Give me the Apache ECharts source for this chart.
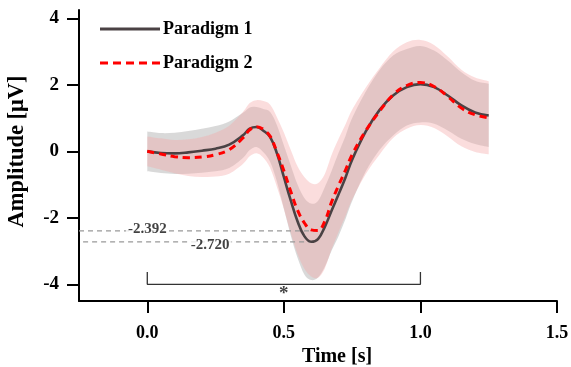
<!DOCTYPE html>
<html><head><meta charset="utf-8">
<script src="https://cdn.jsdelivr.net/npm/echarts@6/dist/echarts.min.js"></script>
<style>html,body{margin:0;padding:0;background:#fff}#c{width:571px;height:367px}</style>
</head><body><div id="c"></div>
<script>
const time = [0,0.05,0.1,0.15,0.2,0.25,0.3,0.35,0.375,0.4,0.425,0.45,0.475,0.5,0.525,0.55,0.575,0.6,0.625,0.65,0.675,0.7,0.725,0.75,0.8,0.85,0.9,0.95,1.0,1.05,1.1,1.15,1.2,1.25];
const p1Mean = [0,-0.05,-0.06,-0.03,0.02,0.08,0.2,0.48,0.68,0.73,0.62,0.43,-0.07,-0.77,-1.47,-2.1,-2.55,-2.72,-2.64,-2.27,-1.78,-1.3,-0.8,-0.25,0.6,1.24,1.68,1.93,2.02,1.93,1.68,1.38,1.17,1.08];
const p1Sd = [0.6,0.6,0.62,0.64,0.66,0.68,0.7,0.68,0.64,0.6,0.65,0.75,0.85,0.95,1.05,1.1,1.15,1.15,1.15,1.2,1.2,1.25,1.25,1.25,1.2,1.2,1.2,1.15,1.15,1.1,1.05,1.0,0.95,0.95];
const p2Mean = [0,-0.08,-0.16,-0.19,-0.17,-0.1,0.05,0.4,0.65,0.74,0.66,0.45,-0.03,-0.58,-1.2,-1.77,-2.15,-2.36,-2.38,-2.1,-1.52,-1.03,-0.58,-0.1,0.62,1.2,1.7,1.98,2.07,1.95,1.65,1.3,1.1,1.01];
const p2Sd = [0.45,0.47,0.5,0.55,0.6,0.66,0.72,0.78,0.8,0.8,0.85,0.95,1.05,1.15,1.25,1.32,1.38,1.4,1.42,1.42,1.42,1.4,1.38,1.35,1.3,1.3,1.3,1.3,1.28,1.25,1.2,1.15,1.12,1.1];
const seriesNames = ['Paradigm 1','Paradigm 2'];
const xTicks = [0,0.5,1.0,1.5];
const yTicks = [-4,-2,0,2,4];
const peak1 = {t:0.6, v:-2.720, label:'-2.720', labelT:0.23};
const peak2 = {t:0.613, v:-2.392, label:'-2.392', labelT:0.0};
const sigStart = 0, sigEnd = 1.0, sigLevel = -4.0, sigTop = -3.63, sigMark = '*', sigMarkV = -4.28;

const FONT = "'Liberation Serif','Times New Roman',serif";
const pairs = (xs, ys) => xs.map((x,i)=>[x, ys[i]]);

// Catmull-Rom spline through pixel points -> SVG path segments (rendering only)
function splineSeg(p) {
  let d = '';
  for (let i = 0; i < p.length - 1; i++) {
    const p0 = p[Math.max(i-1,0)], p1 = p[i], p2 = p[i+1], p3 = p[Math.min(i+2,p.length-1)];
    const c1 = [p1[0] + (p2[0]-p0[0])/6, p1[1] + (p2[1]-p0[1])/6];
    const c2 = [p2[0] - (p3[0]-p1[0])/6, p2[1] - (p3[1]-p1[1])/6];
    d += ` C${c1[0]},${c1[1]} ${c2[0]},${c2[1]} ${p2[0]},${p2[1]}`;
  }
  return d;
}
const bandSeries = (m, s, color) => ({
  type:'custom', silent:true, z:1, data:[[time[0], m[0]]],
  renderItem:(params, api) => {
    const up = time.map((t,i)=>api.coord([t, m[i]+s[i]]));
    const lo = time.map((t,i)=>api.coord([t, m[i]-s[i]])).reverse();
    const d = `M${up[0][0]},${up[0][1]}` + splineSeg(up) + ` L${lo[0][0]},${lo[0][1]}` + splineSeg(lo) + ' Z';
    return {type:'path', shape:{pathData:d}, style:{fill:color, stroke:null}};
  }
});

const dashIcon = 'path://M0,0H8V3H0Z M13,0H21V3H13Z M26,0H34V3H26Z M39,0H47V3H39Z M52,0H60V3H52Z';
const solidIcon = 'path://M0,0H60V3H0Z';

const chart = echarts.init(document.getElementById('c'), null, {renderer:'canvas'});
chart.setOption({
  animation:false,
  backgroundColor:'#fff',
  grid:{left:79, right:14, top:10, bottom:66, outerBoundsMode:'none', containLabel:false},
  legend:{
    data:[{name:seriesNames[0], icon:solidIcon},{name:seriesNames[1], icon:dashIcon}],
    orient:'vertical', left:100, top:20, padding:0, itemWidth:60, itemHeight:3, itemGap:16,
    textStyle:{fontFamily:FONT, fontWeight:'bold', fontSize:18, color:'#000', padding:[0,0,0,-2]}
  },
  xAxis:{
    type:'value', min:-0.25, max:1.5,
    name:'Time [s]', nameLocation:'middle', nameGap:42,
    nameTextStyle:{fontFamily:FONT, fontWeight:'bold', fontSize:20, color:'#000', padding:[0,0,0,38]},
    axisLine:{onZero:false, lineStyle:{color:'#000', width:2}},
    axisTick:{customValues:xTicks, length:12, lineStyle:{width:2, color:'#000'}},
    axisLabel:{customValues:xTicks, margin:23, fontFamily:FONT, fontWeight:'bold', fontSize:18, color:'#000', formatter:v=>v.toFixed(1)},
    splitLine:{show:false}
  },
  yAxis:{
    type:'value', min:-4.5, max:4.25,
    name:'Amplitude [μV]', nameLocation:'middle', nameGap:50,
    nameTextStyle:{fontFamily:FONT, fontWeight:'bold', fontSize:22.5, color:'#000', padding:[0,0,0,8]},
    axisLine:{show:true, onZero:false, lineStyle:{color:'#000', width:2}},
    axisTick:{show:true, customValues:yTicks, length:12, lineStyle:{width:2, color:'#000'}},
    axisLabel:{customValues:yTicks, margin:20, fontFamily:FONT, fontWeight:'bold', fontSize:19, color:'#000'},
    splitLine:{show:false}
  },
  series:[
    bandSeries(p1Mean, p1Sd, 'rgba(170,170,170,0.45)'),
    bandSeries(p2Mean, p2Sd, 'rgba(245,165,165,0.38)'),
    {type:'line', data:[[-0.25,peak2.v],[peak2.t,peak2.v]], symbol:'none', lineStyle:{color:'#999', width:1.2, type:[5,4]}, silent:true, z:2},
    {type:'line', data:[[-0.235,peak1.v],[peak1.t,peak1.v]], symbol:'none', lineStyle:{color:'#999', width:1.2, type:[5,4]}, silent:true, z:2},
    {type:'line', data:[[sigStart,sigTop],[sigStart,sigLevel],[sigEnd,sigLevel],[sigEnd,sigTop]], symbol:'none', lineStyle:{color:'#333', width:1.3}, silent:true, z:2},
    {name:seriesNames[0], type:'line', data:pairs(time,p1Mean), smooth:0.4, symbol:'none', lineStyle:{color:'#4a4244', width:2.6}, itemStyle:{color:'#4a4244'}, z:5},
    {name:seriesNames[1], type:'line', data:pairs(time,p2Mean), smooth:0.4, symbol:'none', lineStyle:{color:'#ff0000', width:3, type:[7,5]}, itemStyle:{color:'#ff0000'}, z:6},
    {type:'scatter', symbolSize:0, silent:true, z:7,
      data:[
        {value:[peak2.labelT, peak2.v], label:{formatter:peak2.label, offset:[0,-2]}},
        {value:[peak1.labelT, peak1.v], label:{formatter:peak1.label, offset:[0,3]}},
        {value:[(sigStart+sigEnd)/2, sigMarkV], label:{formatter:sigMark, fontSize:19, backgroundColor:'transparent', offset:[0,0]}}
      ],
      label:{show:true, position:'inside', fontFamily:FONT, fontWeight:'bold', fontSize:15, color:'#111', backgroundColor:'#fff', padding:[0,2]}
    }
  ]
});
</script></body></html>
